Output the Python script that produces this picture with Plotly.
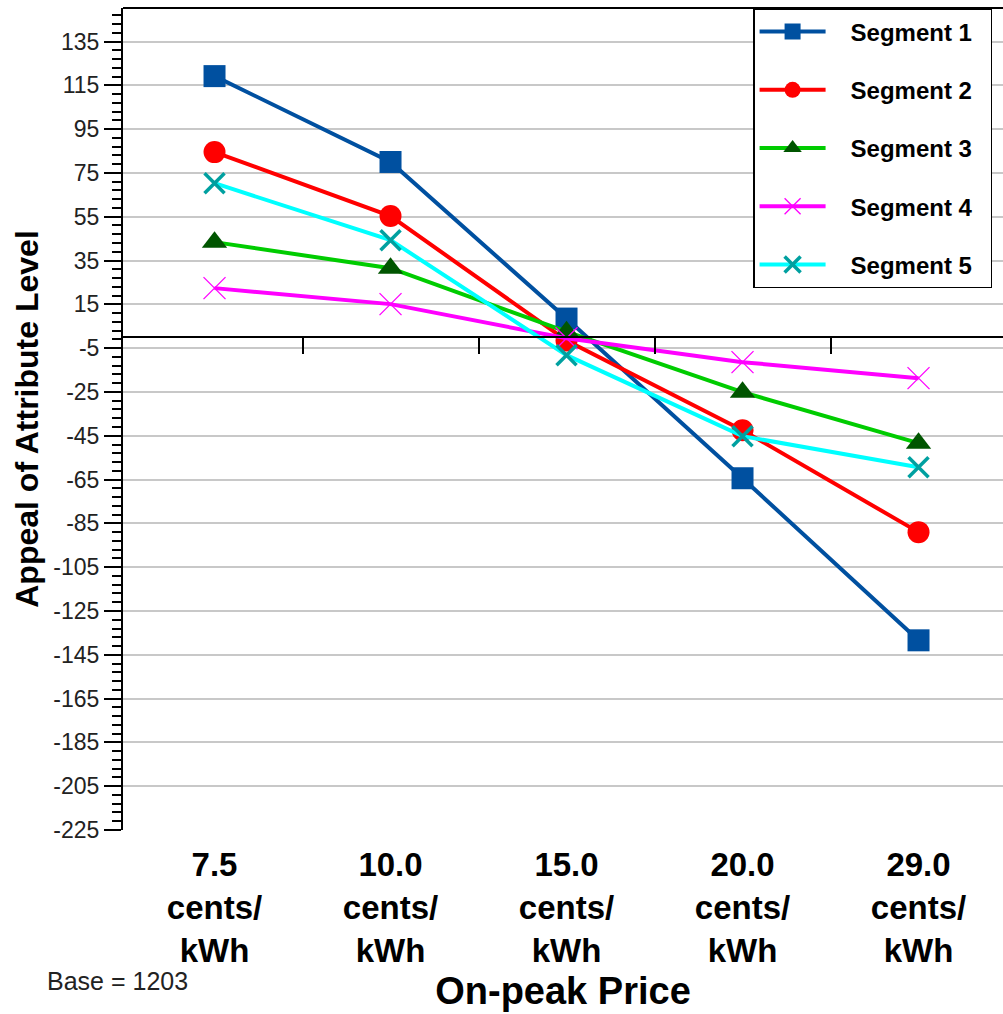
import plotly.graph_objects as go

categories = ["7.5<br>cents/<br>kWh", "10.0<br>cents/<br>kWh", "15.0<br>cents/<br>kWh",
              "20.0<br>cents/<br>kWh", "29.0<br>cents/<br>kWh"]
seg1 = [119.2, 80.0, 8.5, -64.4, -138.4]
seg2 = [84.5, 55.3, -1.5, -42.5, -89.0]
seg3 = [43.4, 31.5, 2.5, -25.1, -48.4]
seg4 = [22.4, 15.1, -0.5, -11.4, -18.7]
seg5 = [70.3, 44.3, -8.2, -45.2, -59.4]
names = ["Segment 1", "Segment 2", "Segment 3", "Segment 4", "Segment 5"]
ytick_vals = list(range(-225, 136, 20))
ytick_text = [str(v) for v in ytick_vals]

FONT = "Arial, Liberation Sans, sans-serif"
NB = "\u00a0"

styles = [
    dict(line=dict(color="#0050A0", width=4), marker=dict(symbol="square", size=22, color="#0050A0")),
    dict(line=dict(color="#FF0000", width=4), marker=dict(symbol="circle", size=22, color="#FF0000")),
    dict(line=dict(color="#00CC00", width=4), marker=dict(symbol="triangle-up", size=22, color="#005500")),
    dict(line=dict(color="#FF00FF", width=4), marker=dict(symbol="x-thin", size=22, color="#FF00FF",
                                                        line=dict(color="#FF00FF", width=1.3))),
    dict(line=dict(color="#00FFFF", width=4), marker=dict(symbol="x-thin", size=20, color="#00A0A0",
                                                        line=dict(color="#00A0A0", width=3.5))),
]

fig = go.Figure()
for i, (nm, ys) in enumerate(zip(names, [seg1, seg2, seg3, seg4, seg5])):
    fig.add_trace(go.Scatter(x=categories, y=ys, name=NB * 3 + nm + NB * 2, mode="lines+markers",
                             legendgroup=nm, **styles[i]))

fig.update_layout(
    width=1003, height=1014,
    margin=dict(l=123, r=0, t=8, b=184, autoexpand=False),
    paper_bgcolor="white", plot_bgcolor="white",
    font=dict(family=FONT, color="black"),
    showlegend=True,
    legend=dict(x=0.7160, xanchor="left", y=1, yanchor="top",
                bgcolor="white", bordercolor="black", borderwidth=1.5,
                font=dict(size=24, family=FONT, color="black", weight="bold"),
                tracegroupgap=24, itemwidth=66),
    xaxis=dict(type="category", categoryarray=categories, range=[-0.52, 4.48],
               showline=False, showgrid=False, ticks="", zeroline=False,
               ticklabelstandoff=12,
               tickfont=dict(size=33, family=FONT, weight="bold", color="black"),
               title=dict(text="On-peak Price", font=dict(size=38, family=FONT, weight="bold"),
                          standoff=9)),
    xaxis2=dict(overlaying="x", anchor="free", position=0.6, range=[-0.52, 4.48],
                showline=True, linecolor="black", linewidth=1.5, showgrid=False, zeroline=False,
                ticks="outside", tickvals=[0.5, 1.5, 2.5, 3.5], ticklen=16, tickcolor="black",
                tickwidth=1.5, showticklabels=False),
    yaxis=dict(range=[-225, 150.3], tickvals=ytick_vals, ticktext=ytick_text,
               showline=True, linecolor="black", linewidth=2,
               ticks="outside", ticklen=17, tickwidth=1.5, tickcolor="black",
               showgrid=True, gridcolor="#C8C8C8", gridwidth=1.5, zeroline=False,
               tickfont=dict(size=23, family=FONT, color="#222222"),
               minor=dict(dtick=4, tick0=-225, ticks="outside", ticklen=9, tickcolor="black",
                          tickwidth=1.5, showgrid=False),
               title=dict(text="Appeal of Attribute Level",
                          font=dict(size=32, family=FONT, weight="bold"), standoff=5)),
    shapes=[dict(type="line", xref="paper", yref="paper", x0=0, x1=1, y0=1, y1=1,
                 line=dict(color="black", width=2))],
    annotations=[dict(text="Base = 1203", xref="paper", yref="paper", x=-0.089, y=-0.1835,
                      xanchor="left", yanchor="middle", showarrow=False,
                      font=dict(size=25, family=FONT, color="#222222"))],
)
fig.add_trace(go.Scatter(x=[None], y=[None], xaxis="x2", showlegend=False, hoverinfo="skip"))

fig.write_html("out.html")
